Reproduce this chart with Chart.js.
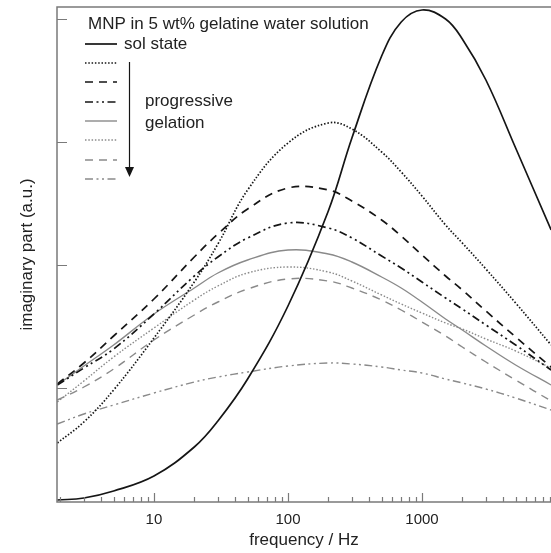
<!DOCTYPE html>
<html>
<head>
<meta charset="utf-8">
<script src="https://cdn.jsdelivr.net/npm/chart.js@4.4.0/dist/chart.umd.min.js"></script>
<style>
  html, body { margin: 0; padding: 0; background: #fff; }
  #wrap { width: 551px; height: 553px; }
</style>
</head>
<body>
<div id="wrap"><canvas id="chart" width="551" height="553"></canvas></div>
<script>
const freqs = [1.9, 3, 5, 10, 20, 30, 50, 100, 200, 300, 500, 700, 1000, 1500, 2000, 3000, 5000, 9200];

// imaginary part, arbitrary units
const solState     = [11, 13, 20, 35, 64, 90, 132, 205, 300, 373, 455, 489, 501, 492, 472, 431, 363, 281];
const gel1Dotted   = [68, 89, 121, 173, 229, 267, 321, 368, 388, 382, 359, 339, 315, 286, 268, 242, 208, 166];
const gel2Dashed   = [127, 148, 175, 212, 254, 277, 302, 323, 321, 310, 291, 275, 256, 235, 221, 200, 174, 144];
const gel3DashDot  = [126, 143, 162, 197, 235, 254, 273, 288, 283, 273, 255, 243, 229, 213, 202, 186, 166, 141];
const gel4Solid    = [126, 145, 166, 197, 223, 238, 251, 261, 257, 249, 234, 223, 209, 192, 181, 165, 146, 126];
const gel5Dotted   = [109, 130, 154, 183, 211, 225, 238, 244, 239, 230, 216, 207, 198, 188, 182, 172, 160, 143];
const gel6Dashed   = [111, 124, 142, 171, 196, 209, 222, 232, 230, 223, 211, 201, 189, 175, 164, 149, 131, 110];
const gel7DashDot  = [87, 97, 106, 118, 129, 134, 139, 145, 148, 147, 144, 141, 138, 132, 128, 122, 113, 101];

const xTickLabels = [10, 100, 1000];
const yTickValues = [123, 246, 369, 492];

const FONT = "'Liberation Sans', Arial, sans-serif";
const BLACK = '#151515';
const GREY = '#8a8a8a';
const AXIS = '#7a7a7a';

const pts = (ys) => freqs.map((f, i) => ({ x: f, y: ys[i] }));

const line = (label, ys, color, dash, width) => ({
  label: label,
  data: pts(ys),
  borderColor: color,
  borderDash: dash,
  borderWidth: width,
  borderCapStyle: 'butt',
  pointRadius: 0,
  fill: false,
  tension: 0.4
});

const datasets = [
  line('sol state', solState, BLACK, [], 1.7),
  line('', gel1Dotted, BLACK, [1.5, 1.8], 1.7),
  line('', gel2Dashed, BLACK, [8, 6], 1.7),
  line('', gel3DashDot, BLACK, [8, 3.5, 2, 3.5, 2, 3.5], 1.7),
  line('', gel4Solid, GREY, [], 1.4),
  line('', gel5Dotted, GREY, [1.5, 1.8], 1.4),
  line('', gel6Dashed, GREY, [8, 6], 1.4),
  line('', gel7DashDot, GREY, [8, 3.5, 2, 3.5, 2, 3.5], 1.4)
];

// frame, inward tick marks and the in-plot legend
const overlay = {
  id: 'overlay',
  afterDraw(chart) {
    const ctx = chart.ctx;
    const a = chart.chartArea;
    const xs = chart.scales.x;
    const ys = chart.scales.y;
    ctx.save();

    ctx.strokeStyle = AXIS;
    ctx.lineWidth = 1.5;
    ctx.setLineDash([]);
    ctx.beginPath();
    ctx.moveTo(a.right + 2, a.top);
    ctx.lineTo(a.left, a.top);
    ctx.lineTo(a.left, a.bottom);
    ctx.lineTo(a.right + 2, a.bottom);
    ctx.stroke();

    // x ticks (log decades)
    ctx.lineWidth = 1.2;
    ctx.beginPath();
    for (let d = 1; d <= 10000; d *= 10) {
      for (let m = 1; m <= 9; m++) {
        const v = d * m;
        if (v < xs.min || v > xs.max) continue;
        const px = Math.round(xs.getPixelForValue(v)) + 0.5;
        const len = m === 1 ? 9 : 5;
        ctx.moveTo(px, a.bottom);
        ctx.lineTo(px, a.bottom - len);
      }
    }
    // y ticks
    yTickValues.forEach(v => {
      const py = Math.round(ys.getPixelForValue(v)) + 0.5;
      ctx.moveTo(a.left, py);
      ctx.lineTo(a.left + 10, py);
    });
    ctx.stroke();

    // legend
    ctx.fillStyle = '#222';
    ctx.font = '17px ' + FONT;
    ctx.textBaseline = 'middle';
    ctx.textAlign = 'left';
    ctx.fillText('MNP in 5 wt% gelatine water solution', 88, 24);

    const rows = [44, 63, 82, 102, 121, 140, 160, 179];
    chart.data.datasets.forEach((ds, i) => {
      ctx.strokeStyle = ds.borderColor;
      ctx.lineWidth = ds.borderWidth;
      ctx.setLineDash(ds.borderDash);
      ctx.beginPath();
      ctx.moveTo(85, rows[i]);
      ctx.lineTo(117, rows[i]);
      ctx.stroke();
    });
    ctx.setLineDash([]);
    ctx.fillText(chart.data.datasets[0].label, 124, 44);
    ctx.fillText('progressive', 145, 101);
    ctx.fillText('gelation', 145, 123);

    // arrow
    ctx.strokeStyle = BLACK;
    ctx.fillStyle = BLACK;
    ctx.lineWidth = 1.2;
    ctx.beginPath();
    ctx.moveTo(129.5, 62);
    ctx.lineTo(129.5, 170);
    ctx.stroke();
    ctx.beginPath();
    ctx.moveTo(129.5, 177);
    ctx.lineTo(125, 167);
    ctx.lineTo(134, 167);
    ctx.closePath();
    ctx.fill();

    ctx.restore();
  }
};

new Chart(document.getElementById('chart'), {
  type: 'line',
  data: { datasets: datasets },
  options: {
    responsive: false,
    animation: false,
    layout: { padding: { top: 7, right: 0, left: 0, bottom: 0 } },
    plugins: {
      legend: { display: false },
      tooltip: { enabled: false }
    },
    scales: {
      x: {
        type: 'logarithmic',
        min: 1.89,
        max: 9180,
        grid: { display: false, drawTicks: false },
        border: { display: false },
        afterBuildTicks: (scale) => { scale.ticks = xTickLabels.map(v => ({ value: v })); },
        afterFit: (scale) => { scale.height = 51; },
        ticks: {
          autoSkip: false,
          maxRotation: 0,
          padding: 9,
          color: '#222',
          font: { family: FONT, size: 15 },
          callback: (v) => String(v)
        },
        title: {
          display: true,
          text: 'frequency / Hz',
          color: '#222',
          font: { family: FONT, size: 17 },
          padding: { top: 0, bottom: 2 }
        }
      },
      y: {
        type: 'linear',
        min: 9,
        max: 504,
        grid: { display: false, drawTicks: false },
        border: { display: false },
        afterBuildTicks: (scale) => { scale.ticks = yTickValues.map(v => ({ value: v })); },
        afterFit: (scale) => { scale.width = 57; },
        ticks: { display: false },
        title: {
          display: true,
          text: 'imaginary part (a.u.)',
          color: '#222',
          font: { family: FONT, size: 17 },
          padding: { top: 17, bottom: 0 }
        }
      }
    }
  },
  plugins: [overlay]
});
</script>
</body>
</html>
